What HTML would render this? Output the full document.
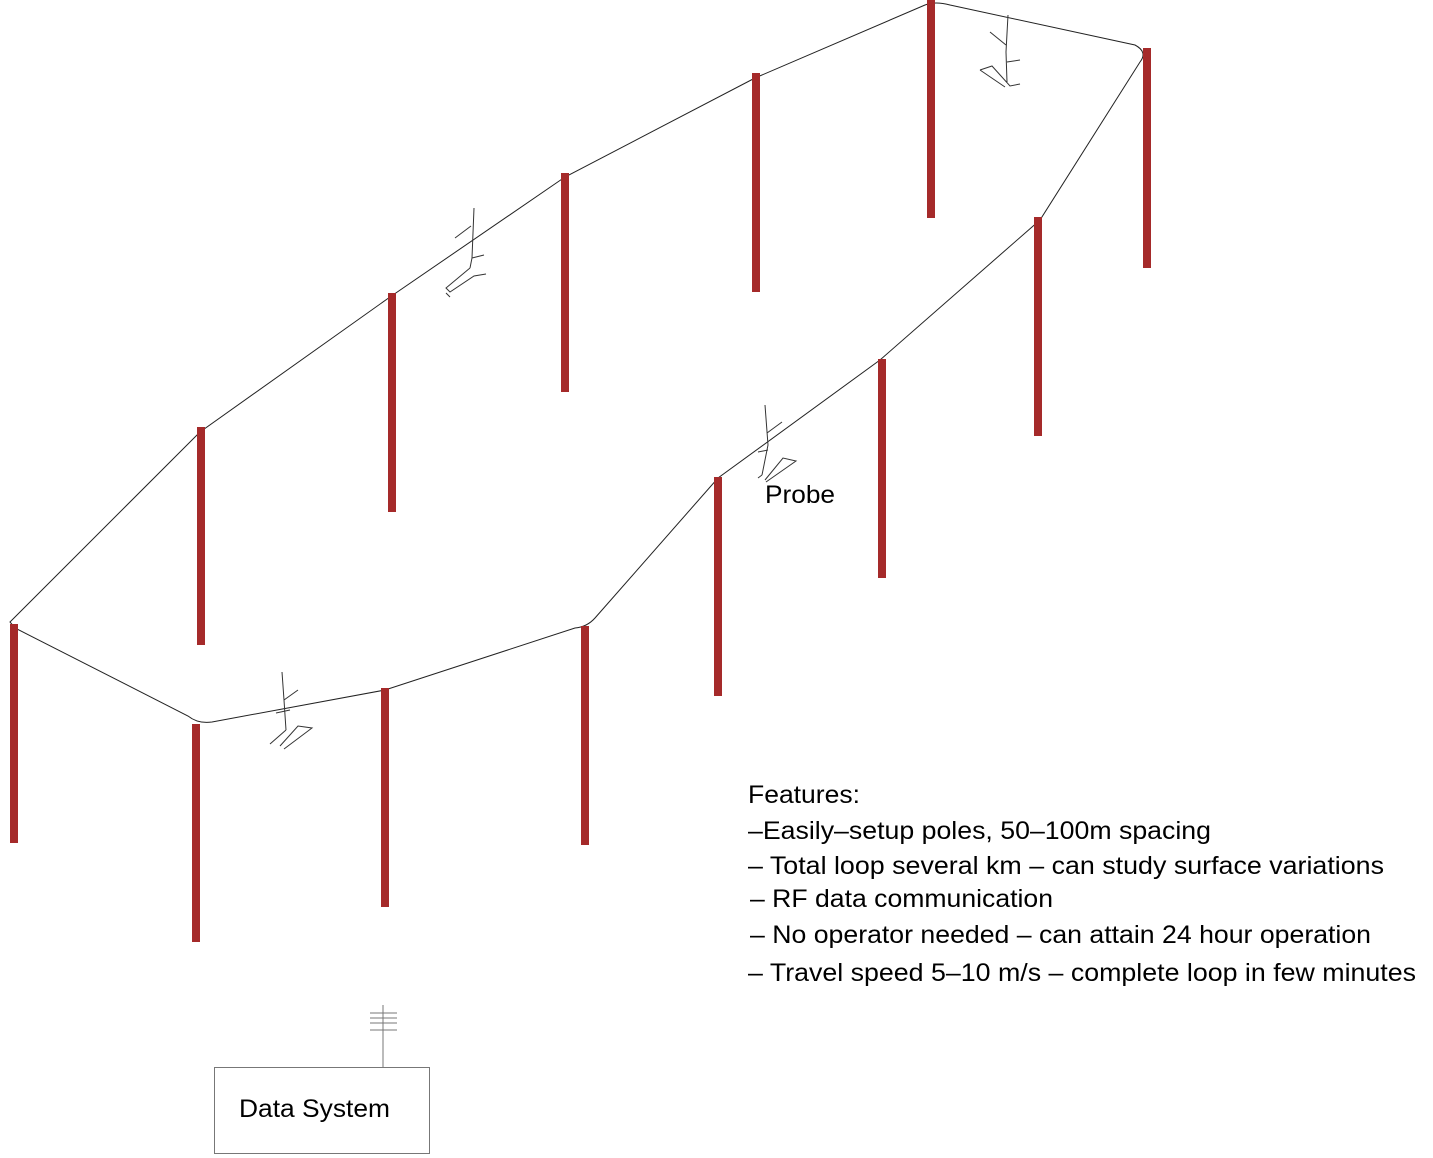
<!DOCTYPE html>
<html><head><meta charset="utf-8"><style>
html,body{margin:0;padding:0;background:#fff;}
svg{display:block;}
text{font-family:"Liberation Sans",sans-serif;fill:#000;}
</style></head><body>
<svg width="1433" height="1158" viewBox="0 0 1433 1158" xmlns="http://www.w3.org/2000/svg">
<path d="M10,622 L200,432 L390,297 L565,177 L755,78 L925,5 Q935,1 950,5 L1135,45 Q1148,52 1140,62 L1040,220 L880,360 L718,478 L595,618 Q587,627 575,628 L385,690 L212,722 Q198,724 188,716 L15,628 Z" fill="none" stroke="#222" stroke-width="1"/>
<g fill="#a52a2a">
<rect x="927" y="0" width="8" height="218"/>
<rect x="1143" y="48" width="8" height="220"/>
<rect x="752" y="73" width="8" height="219"/>
<rect x="561" y="173" width="8" height="219"/>
<rect x="388" y="293" width="8" height="219"/>
<rect x="1034" y="217" width="8" height="219"/>
<rect x="878" y="359" width="8" height="219"/>
<rect x="197" y="427" width="8" height="218"/>
<rect x="714" y="477" width="8" height="219"/>
<rect x="10" y="624" width="8" height="219"/>
<rect x="581" y="626" width="8" height="219"/>
<rect x="192" y="724" width="8" height="218"/>
<rect x="381" y="688" width="8" height="219"/>
</g>
<g fill="none" stroke="#333" stroke-width="1">
<path d="M474,208 L472,258 L470,268 M455,238 L471,226 M472,258 L484,255 M470,268 L446,288 L450,292 L474,276 L486,274 M446,293 L450,297"/>
<path d="M765,405 L768,445 L762,475 M767,433 L782,422 M758,452 L768,450 M762,475 L758,478 M765,480 L783,458 L796,461 L766,482"/>
<path d="M1008,15 L1006,52 L1007,82 M990,32 L1006,45 M1007,62 L1020,60 M980,70 L992,66 L1010,86 L1020,84 M980,70 L1005,87"/>
<path d="M282,672 L284,700 L286,730 M284,700 L298,690 M276,713 L290,710 M286,730 L270,744 M280,746 L298,726 L312,728 L284,749"/>
</g>
<g stroke="#777" stroke-width="1" fill="none">
<line x1="383" y1="1005" x2="383" y2="1067"/>
<line x1="370" y1="1013" x2="397" y2="1013"/>
<line x1="370" y1="1018" x2="397" y2="1018"/>
<line x1="370" y1="1023" x2="397" y2="1023"/>
<line x1="370" y1="1030" x2="397" y2="1030"/>
<rect x="214.5" y="1067.5" width="215" height="86"/>
</g>
<text x="239" y="1117" font-size="25" textLength="151" lengthAdjust="spacingAndGlyphs">Data System</text>
<text x="765" y="503" font-size="25" textLength="70" lengthAdjust="spacingAndGlyphs">Probe</text>
<g font-size="25" lengthAdjust="spacingAndGlyphs">
<text x="748" y="803" textLength="112" lengthAdjust="spacingAndGlyphs">Features:</text>
<text x="748" y="839" textLength="463" lengthAdjust="spacingAndGlyphs">–Easily–setup poles, 50–100m spacing</text>
<text x="748" y="874" textLength="636" lengthAdjust="spacingAndGlyphs">– Total loop several km – can study surface variations</text>
<text x="750" y="907" textLength="303" lengthAdjust="spacingAndGlyphs">– RF data communication</text>
<text x="750" y="943" textLength="621" lengthAdjust="spacingAndGlyphs">– No operator needed – can attain 24 hour operation</text>
<text x="748" y="981" textLength="668" lengthAdjust="spacingAndGlyphs">– Travel speed 5–10 m/s – complete loop in few minutes</text>
</g>
</svg>
</body></html>
